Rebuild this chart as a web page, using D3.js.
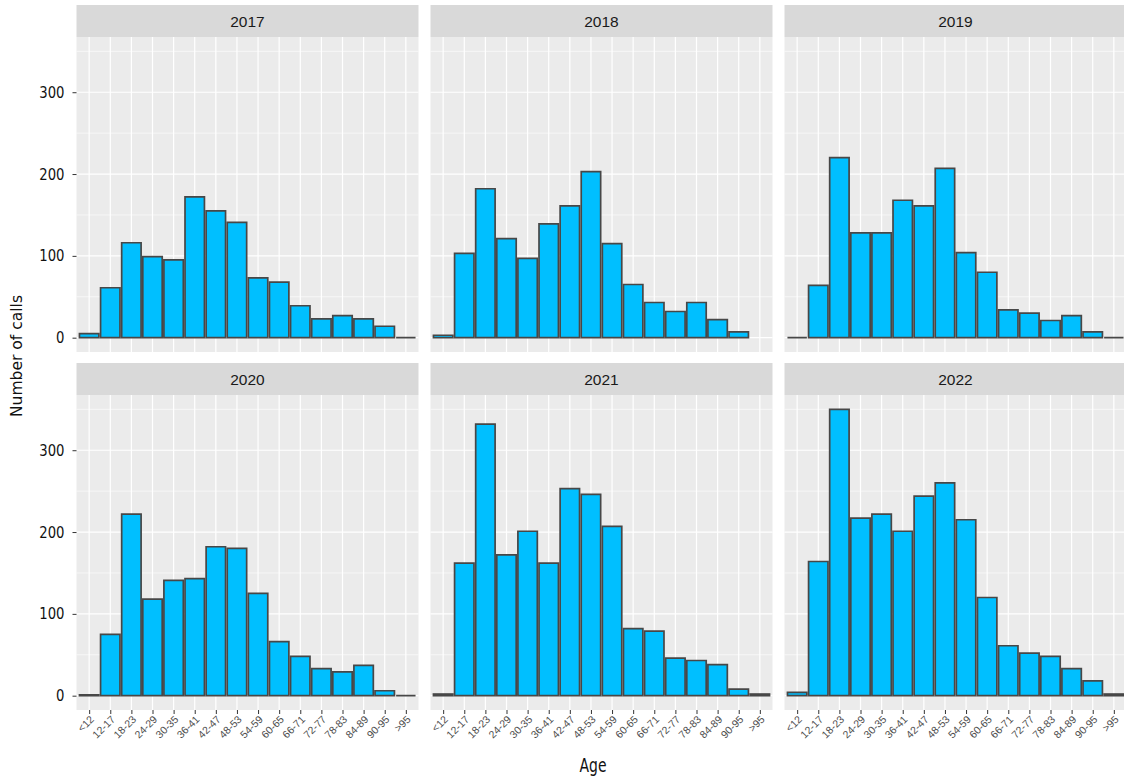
<!DOCTYPE html>
<html><head><meta charset="utf-8">
<script src="https://cdn.jsdelivr.net/npm/d3@7"></script>
<style>body{margin:0;background:#fff}
.cond{font-family:'Liberation Sans Narrow','DejaVu Sans',sans-serif}
</style>
</head><body><svg id="c" width="1124" height="778"></svg>
<script>
const ageGroups = ["<12","12-17","18-23","24-29","30-35","36-41","42-47","48-53","54-59","60-65","66-71","72-77","78-83","84-89","90-95",">95"];
const years = ["2017","2018","2019","2020","2021","2022"];
const calls2017 = [5, 61, 116, 99, 95, 172, 155, 141, 73, 68, 39, 23, 27, 23, 14, 0];
const calls2018 = [3, 103, 182, 121, 97, 139, 161, 203, 115, 65, 43, 32, 43, 22, 7, null];
const calls2019 = [0, 64, 220, 128, 128, 168, 161, 207, 104, 80, 34, 30, 21, 27, 7, 0];
const calls2020 = [1, 75, 222, 118, 141, 143, 182, 180, 125, 66, 48, 33, 29, 37, 6, 0];
const calls2021 = [2, 162, 332, 172, 201, 162, 253, 246, 207, 82, 79, 46, 43, 38, 8, 2];
const calls2022 = [4, 164, 350, 217, 222, 201, 244, 260, 215, 120, 61, 52, 48, 33, 18, 2];
const yMajorTicks = [0, 100, 200, 300];
const yMinorTicks = [50, 150, 250, 350];
const seriesByYear = [calls2017, calls2018, calls2019, calls2020, calls2021, calls2022];

const svg = d3.select("#c");
const panelLefts = [76.5, 430.5, 784.5];
const stripTops = [5, 363];
const stripH = 32;
const panelW = 342, panelH = 315;

const x = d3.scalePoint().domain(ageGroups).range([0, panelW]).padding(0.6);
const step = x.step();
const barW = step * 0.92;
const y = d3.scaleLinear().domain([-17.5, 367.5]).range([panelH, 0]);

years.forEach((yr, i) => {
  const col = i % 3, row = Math.floor(i / 3);
  const left = panelLefts[col];
  const stripTop = stripTops[row];
  const pTop = stripTop + stripH;
  svg.append("rect").attr("x", left).attr("y", stripTop).attr("width", panelW).attr("height", stripH).attr("fill", "#d9d9d9");
  svg.append("text").attr("x", left + panelW / 2).attr("y", stripTop + stripH / 2 + 5.5)
    .attr("text-anchor", "middle").attr("font-family", "'Liberation Sans',Arial,sans-serif")
    .attr("font-size", 15.5).attr("fill", "#1a1a1a").text(yr);
  const g = svg.append("g").attr("transform", `translate(${left},${pTop})`);
  g.append("rect").attr("width", panelW).attr("height", panelH).attr("fill", "#ebebeb");
  g.selectAll(".ymin").data(yMinorTicks).join("line")
    .attr("x1", 0).attr("x2", panelW).attr("y1", d => y(d)).attr("y2", d => y(d))
    .attr("stroke", "#fff").attr("stroke-width", 0.6);
  g.selectAll(".ymaj").data(yMajorTicks).join("line")
    .attr("x1", 0).attr("x2", panelW).attr("y1", d => y(d)).attr("y2", d => y(d))
    .attr("stroke", "#fff").attr("stroke-width", 1.2);
  g.selectAll(".xmaj").data(ageGroups).join("line")
    .attr("x1", d => x(d)).attr("x2", d => x(d)).attr("y1", 0).attr("y2", panelH)
    .attr("stroke", "#fff").attr("stroke-width", 1.2);
  const vals = seriesByYear[i];
  const data = ageGroups.map((a, k) => ({a, v: vals[k]})).filter(d => d.v !== null);
  g.selectAll(".bar").data(data).join("path")
    .attr("d", d => {
      const x0 = x(d.a) - barW / 2, x1 = x0 + barW, y0 = y(0), y1 = y(d.v);
      return `M${x0},${y0}L${x0},${y1}L${x1},${y1}L${x1},${y0}Z`;
    })
    .attr("fill", "#00bfff").attr("stroke", "#474747").attr("stroke-width", 1.7);
  if (col === 0) {
    const ya = g.append("g").call(d3.axisLeft(y).tickValues(yMajorTicks).tickSize(4).tickPadding(8));
    ya.select(".domain").remove();
    ya.selectAll("line").attr("stroke", "#333");
    ya.selectAll("text").attr("class", "cond").attr("font-size", 16).attr("fill", "#111").attr("font-family", null)
      .attr("lengthAdjust", "spacingAndGlyphs").attr("textLength", d => String(d).length * 8.4);
  }
  if (row === 1) {
    const xa = g.append("g").attr("transform", `translate(0,${panelH})`)
      .call(d3.axisBottom(x).tickSize(4).tickPadding(4));
    xa.select(".domain").remove();
    xa.selectAll("line").attr("stroke", "#333");
    xa.selectAll("text").attr("font-family", "'Liberation Sans',Arial,sans-serif").attr("font-size", 10.5)
      .attr("fill", "#4d4d4d").attr("text-anchor", "end").attr("dy", null)
      .attr("transform", "translate(5,10) rotate(-45)").attr("y", 0).attr("x", 0);
  }
});

svg.append("text").attr("class", "cond").attr("x", 593).attr("y", 772).attr("text-anchor", "middle")
  .attr("font-size", 19).attr("fill", "#111").attr("lengthAdjust", "spacingAndGlyphs").attr("textLength", 27).text("Age");
svg.append("text").attr("class", "cond").attr("transform", "translate(22,356) rotate(-90)").attr("text-anchor", "middle")
  .attr("font-size", 16.5).attr("fill", "#111").attr("lengthAdjust", "spacingAndGlyphs").attr("textLength", 122).text("Number of calls");
</script></body></html>
